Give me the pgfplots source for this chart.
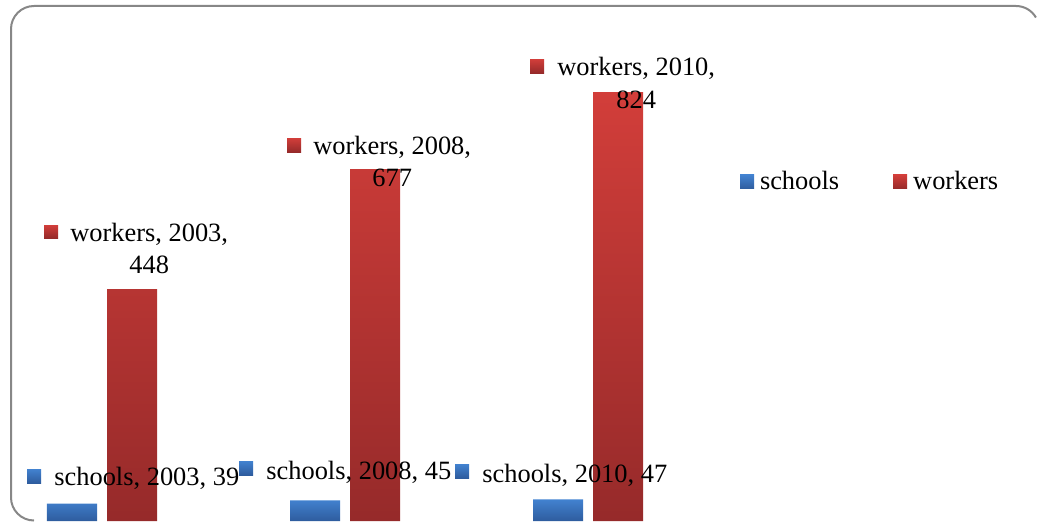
\documentclass[border=0pt]{standalone}
\usepackage{pgfplots}
\pgfplotsset{compat=1.18}
\usepackage{fontspec}
\setmainfont{Liberation Serif}
\definecolor{bluetop}{RGB}{66,130,208}
\definecolor{bluebot}{RGB}{46,92,158}
\definecolor{redtop}{RGB}{210,62,58}
\definecolor{redbot}{RGB}{150,42,42}
\definecolor{framegray}{RGB}{135,135,135}
\newcommand{\lblfont}{\fontsize{13.2pt}{16pt}\selectfont}
\begin{document}
\begin{tikzpicture}
\useasboundingbox (0,0) rectangle (519.5pt,260.5pt);
\begin{pgfinterruptboundingbox}
\clip (0,0) rectangle (519.5pt,260.5pt);
\begin{axis}[
  at={(0pt,0pt)}, anchor=south west,
  scale only axis, width=519.5pt, height=260.5pt,
  xmin=-0.41975, xmax=3.8560, ymin=5.725, ymax=1000,
  hide axis,
  ybar=5pt, bar width=25pt,
  legend columns=2,
  legend style={at={(0.71222,0.6508)}, anchor=west, draw=none, fill=none,
    inner sep=0pt, outer sep=0pt, font=\lblfont, nodes={inner sep=0pt},
    /tikz/column 1/.style={column sep=3pt},
    /tikz/column 2/.style={column sep=27pt},
    /tikz/column 3/.style={column sep=3pt}},
  legend image code/.code={\path[#1, draw=none] (0pt,-3.5pt) rectangle (7pt,3.5pt);},
]
\addplot[draw=none, top color=bluetop, bottom color=bluebot] coordinates {(0,39) (1,45) (2,47)};
\addplot[draw=none, top color=redtop, bottom color=redbot] coordinates {(0,448) (1,677) (2,824)};
\legend{schools, workers}
\end{axis}
\begin{scope}[x=0.5pt, y=-0.5pt, shift={(0pt,260.5pt)}]
  \draw[framegray, line width=1pt] (34,520.5) arc[start angle=90, end angle=180, radius=23]
     -- (11,29) arc[start angle=180, end angle=270, radius=23]
     -- (1016,6) arc[start angle=270, end angle=330, radius=23];
  % schools labels
  \shade[top color=bluetop, bottom color=bluebot] (27,469) rectangle (41,483);
  \node[anchor=base west, inner sep=0pt, font=\lblfont] at (54,485) {schools, 2003, 39};
  \shade[top color=bluetop, bottom color=bluebot] (239,461) rectangle (253,475);
  \node[anchor=base west, inner sep=0pt, font=\lblfont] at (266,479) {schools, 2008, 45};
  \shade[top color=bluetop, bottom color=bluebot] (455,464) rectangle (469,478);
  \node[anchor=base west, inner sep=0pt, font=\lblfont] at (482,482) {schools, 2010, 47};
  % workers labels
  \shade[top color=redtop, bottom color=redbot] (44,225) rectangle (58,238);
  \node[anchor=base west, inner sep=0pt, font=\lblfont] (w1) at (70,241) {workers, 2003,};
  \node[anchor=base, inner sep=0pt, font=\lblfont] at ([yshift=-16pt]w1.base) {448};
  \shade[top color=redtop, bottom color=redbot] (287,138) rectangle (301,152);
  \node[anchor=base west, inner sep=0pt, font=\lblfont] (w2) at (313,154) {workers, 2008,};
  \node[anchor=base, inner sep=0pt, font=\lblfont] at ([yshift=-16pt]w2.base) {677};
  \shade[top color=redtop, bottom color=redbot] (530,59) rectangle (544,73);
  \node[anchor=base west, inner sep=0pt, font=\lblfont] (w3) at (557,76) {workers, 2010,};
  \node[anchor=base, inner sep=0pt, font=\lblfont] at ([yshift=-16pt]w3.base) {824};
\end{scope}
\end{pgfinterruptboundingbox}
\end{tikzpicture}
\end{document}
